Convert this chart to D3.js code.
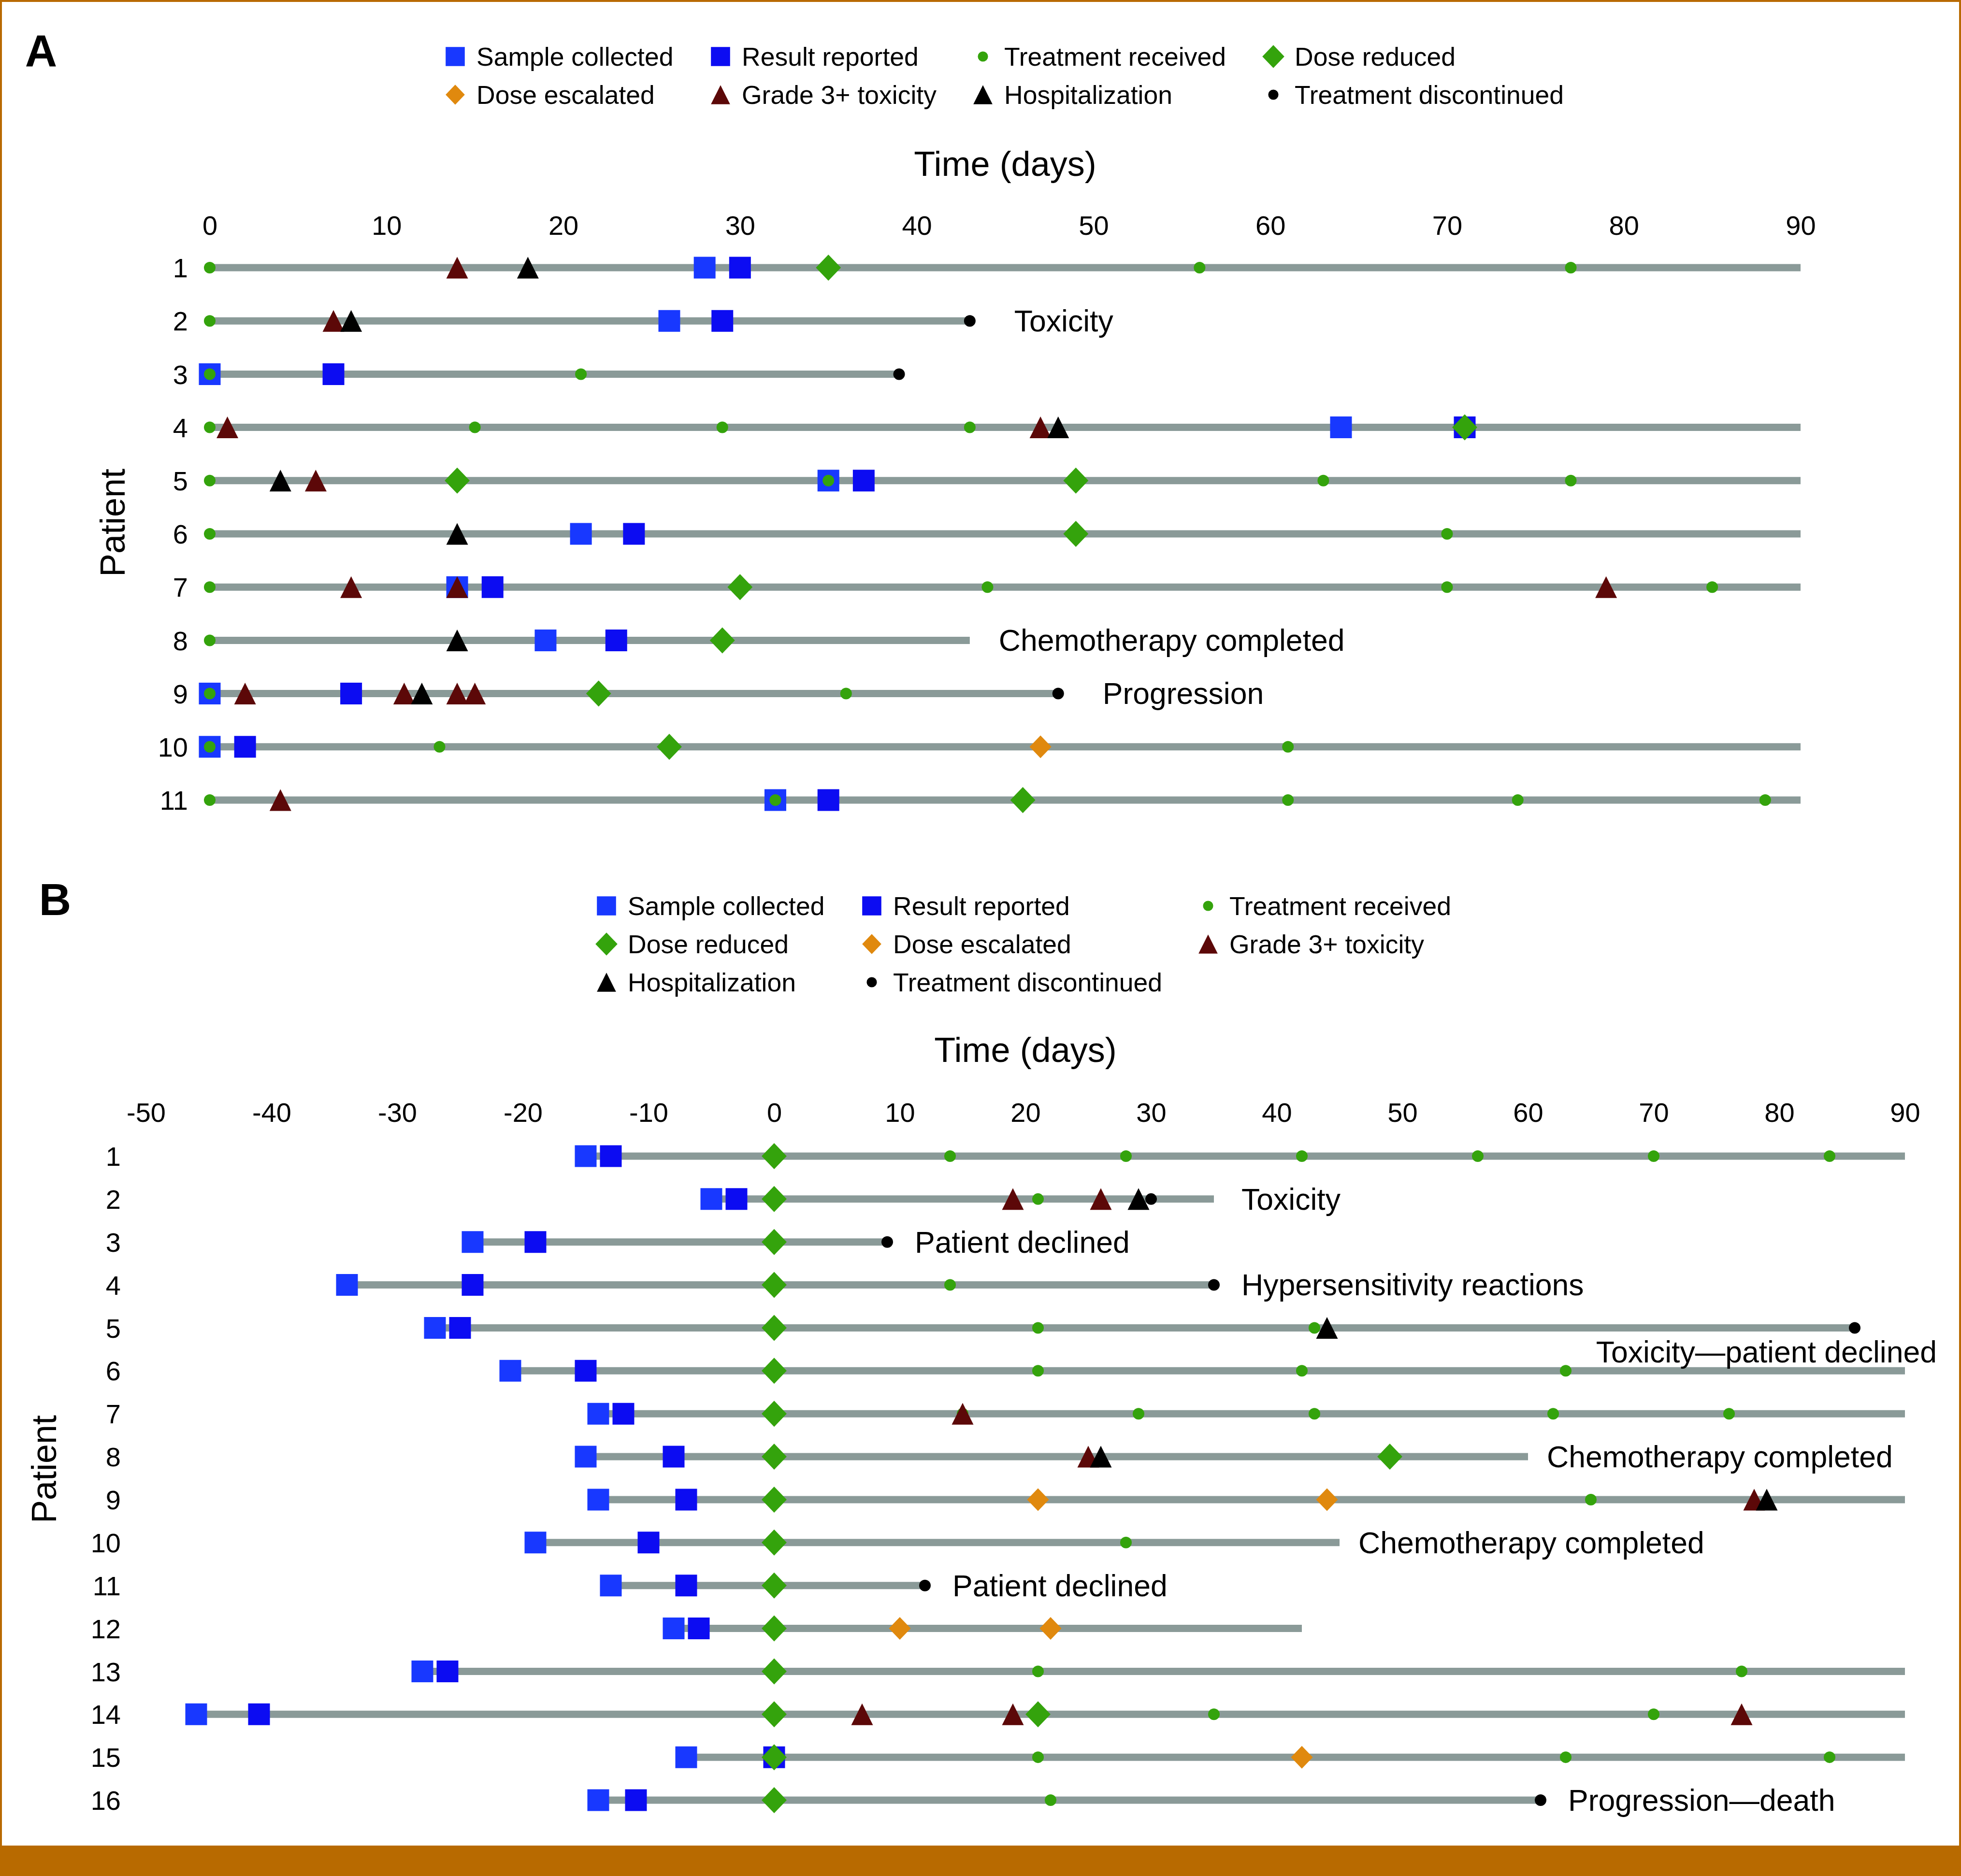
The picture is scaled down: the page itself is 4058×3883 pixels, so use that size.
<!DOCTYPE html>
<html lang="en">
<head>
<meta charset="UTF-8">
<title>Patient timelines</title>
<style>
    body { margin: 0; background: #fff; }
    svg { display: block; }
    text { font-family: "Liberation Sans", Arial, sans-serif; fill: #000; }
</style>
<script src="https://d3js.org/d3.v7.min.js"></script>
</head>
<body>
<script>
    // ---- data: panel A ----
    const patientsA = d3.range(1, 12);
    const sampleA = [28, 26, 0, 64, 35, 21, 14, 19, 0, 0, 32];
    const resultA = [30, 29, 7, 71, 37, 24, 16, 23, 8, 2, 35];
    const treatA = [[0, 56, 77], [0], [0, 21], [0, 15, 29, 43], [0, 35, 63, 77], [0, 70],
                    [0, 44, 70, 85], [0], [0, 36], [0, 13, 61], [0, 32, 61, 74, 88]];
    const reducedA = [[35], [], [], [71], [14, 49], [49], [30], [29], [22], [26], [46]];
    const escalatedA = [[], [], [], [], [], [], [], [], [], [47], []];
    const toxA = [[14], [7], [], [1, 47], [6], [], [8, 14, 79], [], [2, 11, 14, 15], [], [4]];
    const hospA = [[18], [8], [], [48], [4], [14], [], [14], [12], [], []];
    const stopA = [null, 43, 39, null, null, null, null, null, 48, null, null];
    const endA = [90, 43, 39, 90, 90, 90, 90, 43, 48, 90, 90];
    const noteA = ["", "Toxicity", "", "", "", "", "", "Chemotherapy completed", "Progression", "", ""];
    const ticksA = d3.range(0, 91, 10);

    // ---- data: panel B ----
    const patientsB = d3.range(1, 17);
    const sampleB = [-15, -5, -24, -34, -27, -21, -14, -15, -14, -19, -13, -8, -28, -46, -7, -14];
    const resultB = [-13, -3, -19, -24, -25, -15, -12, -8, -7, -10, -7, -6, -26, -41, 0, -11];
    const treatB = [[14, 28, 42, 56, 70, 84], [21], [], [14], [21, 43], [21, 42, 63], [15, 29, 43, 62, 76],
                    [], [65], [28], [], [], [21, 77], [35, 70], [21, 63, 84], [22]];
    const reducedB = [[0], [0], [0], [0], [0], [0], [0], [0, 49], [0], [0], [0], [0], [0], [0, 21], [0], [0]];
    const escalatedB = [[], [], [], [], [], [], [], [], [21, 44], [], [], [10, 22], [], [], [42], []];
    const toxB = [[], [19, 26], [], [], [], [], [15], [25], [78], [], [], [], [], [7, 19, 77], [], []];
    const hospB = [[], [29], [], [], [44], [], [], [26], [79], [], [], [], [], [], [], []];
    const stopB = [null, 30, 9, 35, 86, null, null, null, null, null, 12, null, null, null, null, 61];
    const endB = [90, 35, 9, 35, 86, 90, 90, 60, 90, 45, 12, 42, 90, 90, 90, 61];
    const noteB = ["", "Toxicity", "Patient declined", "Hypersensitivity reactions", "Toxicity\u2014patient declined",
                   "", "", "Chemotherapy completed", "", "Chemotherapy completed", "Patient declined",
                   "", "", "", "", "Progression\u2014death"];
    const ticksB = d3.range(-50, 91, 10);

    const legendLabels = ["Sample collected", "Result reported", "Treatment received", "Dose reduced",
                          "Dose escalated", "Grade 3+ toxicity", "Hospitalization", "Treatment discontinued"];

    // ---- styles ----
    const W = 4058, H = 3883;
    const frameColor = "#b86a00";
    const lineColor = "#8a9a98";
    const markStyles = [
        { shape: "square",   color: "#1838ff", size: 45 },
        { shape: "square",   color: "#0c0cf2", size: 45 },
        { shape: "circle",   color: "#34a30c", size: 24 },
        { shape: "diamond",  color: "#34a30c", size: 54 },
        { shape: "diamond",  color: "#e0890e", size: 47 },
        { shape: "triangle", color: "#5c0808", size: 45 },
        { shape: "triangle", color: "#000000", size: 45 },
        { shape: "circle",   color: "#000000", size: 24 }
    ];

    function shapePath(shape, s) {
        const h = s / 2;
        if (shape === "square") return `M${-h},${-h}H${h}V${h}H${-h}Z`;
        if (shape === "triangle") return `M0,${-h}L${h},${h}L${-h},${h}Z`;
        if (shape === "diamond") return `M0,${-h}L${h * 0.96},0L0,${h}L${-h * 0.96},0Z`;
        const p = d3.path();
        p.arc(0, 0, h, 0, 2 * Math.PI);
        return p.toString();
    }

    const svg = d3.select("body").append("svg")
        .attr("width", W)
        .attr("height", H);

    svg.append("rect").attr("width", W).attr("height", H).attr("fill", "#fff");

    function drawPanel(cfg) {
        const g = svg.append("g");

        const x = d3.scaleLinear().domain(cfg.domain).range(cfg.xRange);
        const y = d3.scalePoint().domain(cfg.patients).range(cfg.yRange);

        // panel letter
        g.append("text")
            .attr("x", cfg.letterX).attr("y", cfg.letterY)
            .attr("text-anchor", "middle")
            .attr("font-size", 92).attr("font-weight", "bold")
            .text(cfg.letter);

        // legend
        legendLabels.forEach((lab, i) => {
            const col = i % cfg.legendCols.length;
            const row = Math.floor(i / cfg.legendCols.length);
            const lx = cfg.legendCols[col], ly = cfg.legendRows[row];
            const st = markStyles[i];
            g.append("path")
                .attr("transform", `translate(${lx},${ly})`)
                .attr("d", shapePath(st.shape, st.size * 0.88))
                .attr("fill", st.color);
            g.append("text")
                .attr("x", lx + 44).attr("y", ly)
                .attr("dy", "0.35em")
                .attr("font-size", 53.5)
                .text(lab);
        });

        // axis title
        g.append("text")
            .attr("x", (cfg.xRange[0] + cfg.xRange[1]) / 2)
            .attr("y", cfg.titleY)
            .attr("dy", "0.35em")
            .attr("text-anchor", "middle")
            .attr("font-size", 72)
            .text("Time (days)");

        // x ticks
        const xAxis = d3.axisTop(x).tickValues(cfg.ticks).tickSize(0).tickFormat(d => String(d));
        const xg = g.append("g")
            .attr("transform", `translate(0,${cfg.tickY})`)
            .call(xAxis);
        xg.select(".domain").remove();
        xg.attr("font-size", 56).attr("font-family", null);
        xg.selectAll("text").attr("y", 0).attr("dy", "0.35em");

        // patient ticks
        const yAxis = d3.axisLeft(y).tickSize(0).tickPadding(0);
        const yg = g.append("g")
            .attr("transform", `translate(${cfg.rowLabelRight},0)`)
            .call(yAxis);
        yg.select(".domain").remove();
        yg.attr("font-size", 56).attr("font-family", null);
        yg.selectAll("text").attr("dy", "0.35em");

        // y title
        g.append("text")
            .attr("transform", `translate(${cfg.yTitleX},${cfg.yTitleY}) rotate(-90)`)
            .attr("dy", "0.35em")
            .attr("text-anchor", "middle")
            .attr("font-size", 72)
            .text("Patient");

        // event lists in draw order
        const eventSets = [
            cfg.sample.map(v => [v]),
            cfg.result.map(v => [v]),
            cfg.treat,
            cfg.reduced,
            cfg.escalated,
            cfg.tox,
            cfg.hosp,
            cfg.stop.map(v => v === null ? [] : [v])
        ];

        const rows = cfg.patients.map((p, i) => {
            const all = eventSets.flatMap(s => s[i]);
            return { p, i, start: d3.min(all), end: cfg.end[i], stop: cfg.stop[i], note: cfg.note[i] };
        });

        // timelines
        g.append("g").selectAll("line")
            .data(rows)
            .join("line")
            .attr("x1", d => x(d.start))
            .attr("x2", d => x(d.end))
            .attr("y1", d => y(d.p))
            .attr("y2", d => y(d.p))
            .attr("stroke", lineColor)
            .attr("stroke-width", 15);

        // markers
        eventSets.forEach((set, k) => {
            const st = markStyles[k];
            const pts = set.flatMap((days, i) => days.map(day => ({ p: cfg.patients[i], day })));
            g.append("g").selectAll("path")
                .data(pts)
                .join("path")
                .attr("transform", d => `translate(${x(d.day)},${y(d.p)})`)
                .attr("d", shapePath(st.shape, st.size))
                .attr("fill", st.color);
        });

        // end notes
        const step = y.step();
        rows.filter(d => d.note).forEach(d => {
            const gap = cfg.noteGap + (d.stop !== null ? cfg.noteDotGap : 0);
            const t = g.append("text")
                .attr("x", x(d.end) + gap)
                .attr("y", y(d.p))
                .attr("dy", "0.35em")
                .attr("font-size", 62.5)
                .text(d.note);
            const len = t.node().getComputedTextLength();
            if (x(d.end) + gap + len > cfg.noteRight) {
                t.attr("x", cfg.noteRight)
                 .attr("text-anchor", "end")
                 .attr("y", y(d.p) + step * 0.56);
            }
        });
    }

    drawPanel({
        letter: "A", letterX: 85, letterY: 137,
        patients: patientsA, domain: [0, 90], xRange: [434, 3726], yRange: [554, 1656],
        ticks: ticksA, tickY: 466, titleY: 339,
        legendCols: [942, 1491, 2034, 2635], legendRows: [117, 196],
        rowLabelRight: 389, yTitleX: 233, yTitleY: 1082,
        sample: sampleA, result: resultA, treat: treatA, reduced: reducedA, escalated: escalatedA,
        tox: toxA, hosp: hospA, stop: stopA, end: endA, note: noteA,
        noteGap: 60, noteDotGap: 32, noteRight: 4008
    });

    drawPanel({
        letter: "B", letterX: 114, letterY: 1894,
        patients: patientsB, domain: [-50, 90], xRange: [302, 3942], yRange: [2393, 3726],
        ticks: ticksB, tickY: 2302, titleY: 2173,
        legendCols: [1255, 1804, 2500], legendRows: [1875, 1954, 2033],
        rowLabelRight: 250, yTitleX: 91, yTitleY: 3041,
        sample: sampleB, result: resultB, treat: treatB, reduced: reducedB, escalated: escalatedB,
        tox: toxB, hosp: hospB, stop: stopB, end: endB, note: noteB,
        noteGap: 39, noteDotGap: 18, noteRight: 4008
    });

    // frame
    svg.append("rect").attr("x", 0).attr("y", 0).attr("width", W).attr("height", 4).attr("fill", frameColor);
    svg.append("rect").attr("x", 0).attr("y", 0).attr("width", 4).attr("height", H).attr("fill", frameColor);
    svg.append("rect").attr("x", W - 4).attr("y", 0).attr("width", 4).attr("height", H).attr("fill", frameColor);
    svg.append("rect").attr("x", 0).attr("y", 3820).attr("width", W).attr("height", H - 3820).attr("fill", frameColor);
</script>
</body>
</html>
